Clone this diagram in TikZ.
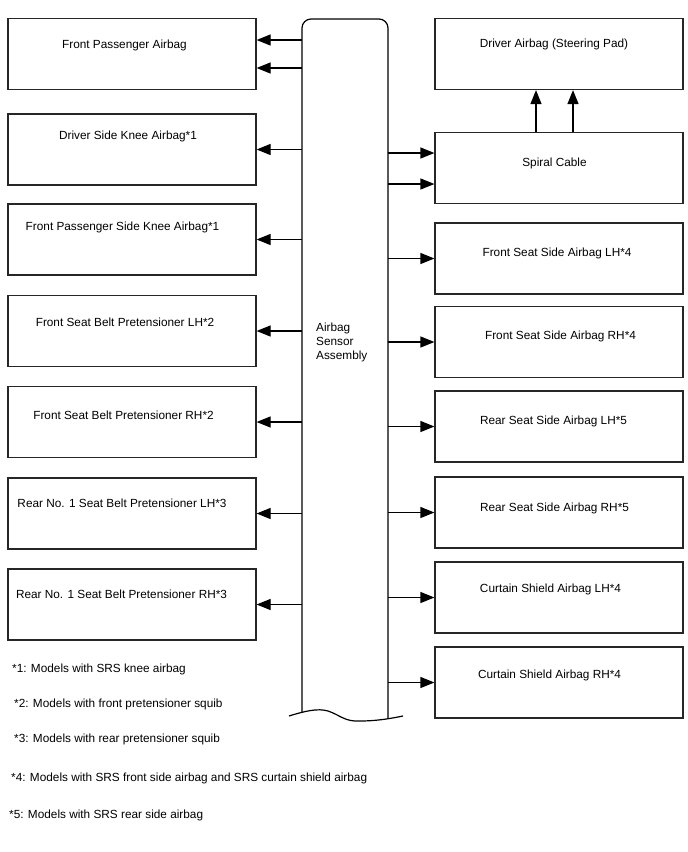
\documentclass[tikz,border=0pt]{standalone}
\usepackage{fontspec}
\setmainfont{Liberation Sans}
\usetikzlibrary{arrows.meta,positioning}

\begin{document}
\begin{tikzpicture}[x=1pt, y=-1pt,
    unit/.style={rectangle, draw=black!85, line width=1.2pt, minimum width=248pt, minimum height=71pt, inner sep=0pt},
    caption/.style={font=\fontsize{11.8}{14}\selectfont, inner sep=0pt},
    note/.style={caption, anchor=west},
    arrow/.style={line width=1.2pt, -{Triangle[length=14pt,width=11pt]}}
]
\useasboundingbox (0,0) rectangle (688,852);

% Airbag sensor assembly
\draw[line width=1.2pt, rounded corners=9pt] (302,712) -- (302,19) -- (388,19) -- (388,718);
\draw[line width=1.2pt] (289,716) .. controls (305,711) and (318,708) .. (328,711) .. controls (340,715) and (345,722) .. (360,721) .. controls (378,721) and (393,718) .. (403,716);
\coordinate (colL) at (302,0);
\coordinate (colR) at (388,0);
\node[caption, anchor=west, align=left] (sensor) at (316,342) {Airbag\\Sensor\\Assembly};

% Left side units
\node[unit] (fp_airbag) at (132,54) {};
\node[unit] (dsk_airbag) at (132,149.5) {};
\node[unit] (fpsk_airbag) at (132,239.5) {};
\node[unit] (fsb_lh) at (132,331) {};
\node[unit] (fsb_rh) at (132,422) {};
\node[unit] (rsb_lh) at (132,513.5) {};
\node[unit] (rsb_rh) at (132,604.5) {};

\node[caption] (fp_airbag_txt) at (124.5,45) {Front Passenger Airbag};
\node[caption] (dsk_airbag_txt) at (128,136) {Driver Side Knee Airbag*1};
\node[caption] (fpsk_airbag_txt) at (122.5,227) {Front Passenger Side Knee Airbag*1};
\node[caption] (fsb_lh_txt) at (125,322) {Front Seat Belt Pretensioner LH*2};
\node[caption] (fsb_rh_txt) at (123.5,415) {Front Seat Belt Pretensioner RH*2};
\node[caption] (rsb_lh_txt) at (122,503) {Rear No. 1 Seat Belt Pretensioner LH*3};
\node[caption] (rsb_rh_txt) at (121.5,594) {Rear No. 1 Seat Belt Pretensioner RH*3};

% Right side units
\node[unit] (drv_airbag) at (559,54) {};
\node[unit] (spiral) at (559,168) {};
\node[unit] (fss_lh) at (559,258.5) {};
\node[unit] (fss_rh) at (559,342) {};
\node[unit] (rss_lh) at (559,426.5) {};
\node[unit] (rss_rh) at (559,512.5) {};
\node[unit] (cs_lh) at (559,597.5) {};
\node[unit] (cs_rh) at (559,682.5) {};

\node[caption] (drv_airbag_txt) at (554,44) {Driver Airbag (Steering Pad)};
\node[caption] (spiral_txt) at (554.5,163) {Spiral Cable};
\node[caption] (fss_lh_txt) at (557,253) {Front Seat Side Airbag LH*4};
\node[caption] (fss_rh_txt) at (560.5,336) {Front Seat Side Airbag RH*4};
\node[caption] (rss_lh_txt) at (553.5,421) {Rear Seat Side Airbag LH*5};
\node[caption] (rss_rh_txt) at (554.5,508) {Rear Seat Side Airbag RH*5};
\node[caption] (cs_lh_txt) at (550.5,589) {Curtain Shield Airbag LH*4};
\node[caption] (cs_rh_txt) at (549.5,675) {Curtain Shield Airbag RH*4};

% Arrows to the left
\coordinate (fp_in1) at ([yshift=14pt]fp_airbag.east);
\coordinate (fp_in2) at ([yshift=-14pt]fp_airbag.east);
\draw[arrow] (colL |- fp_in1) -- (fp_in1);
\draw[arrow] (colL |- fp_in2) -- (fp_in2);
\foreach \u in {dsk_airbag,fpsk_airbag,fsb_lh,fsb_rh,rsb_lh,rsb_rh}
  \draw[arrow] (colL |- \u.east) -- (\u.east);

% Arrows to the right
\coordinate (sp_in1) at ([yshift=15pt]spiral.west);
\coordinate (sp_in2) at ([yshift=-16pt]spiral.west);
\draw[arrow] (colR |- sp_in1) -- (sp_in1);
\draw[arrow] (colR |- sp_in2) -- (sp_in2);
\foreach \u in {fss_lh,fss_rh,rss_lh,rss_rh,cs_lh,cs_rh}
  \draw[arrow] (colR |- \u.west) -- (\u.west);

% Spiral cable to driver airbag
\coordinate (sp_out1) at ([xshift=-23pt]spiral.north);
\coordinate (sp_out2) at ([xshift=14pt]spiral.north);
\draw[arrow] (sp_out1) -- (sp_out1 |- drv_airbag.south);
\draw[arrow] (sp_out2) -- (sp_out2 |- drv_airbag.south);

% Footnotes
\node[note] (note1) at (12,669) {*1: Models with SRS knee airbag};
\node[note] (note2) at (14,704) {*2: Models with front pretensioner squib};
\node[note] (note3) at (14,739) {*3: Models with rear pretensioner squib};
\node[note] (note4) at (11,778) {*4: Models with SRS front side airbag and SRS curtain shield airbag};
\node[note] (note5) at (9,815) {*5: Models with SRS rear side airbag};

\end{tikzpicture}
\end{document}
